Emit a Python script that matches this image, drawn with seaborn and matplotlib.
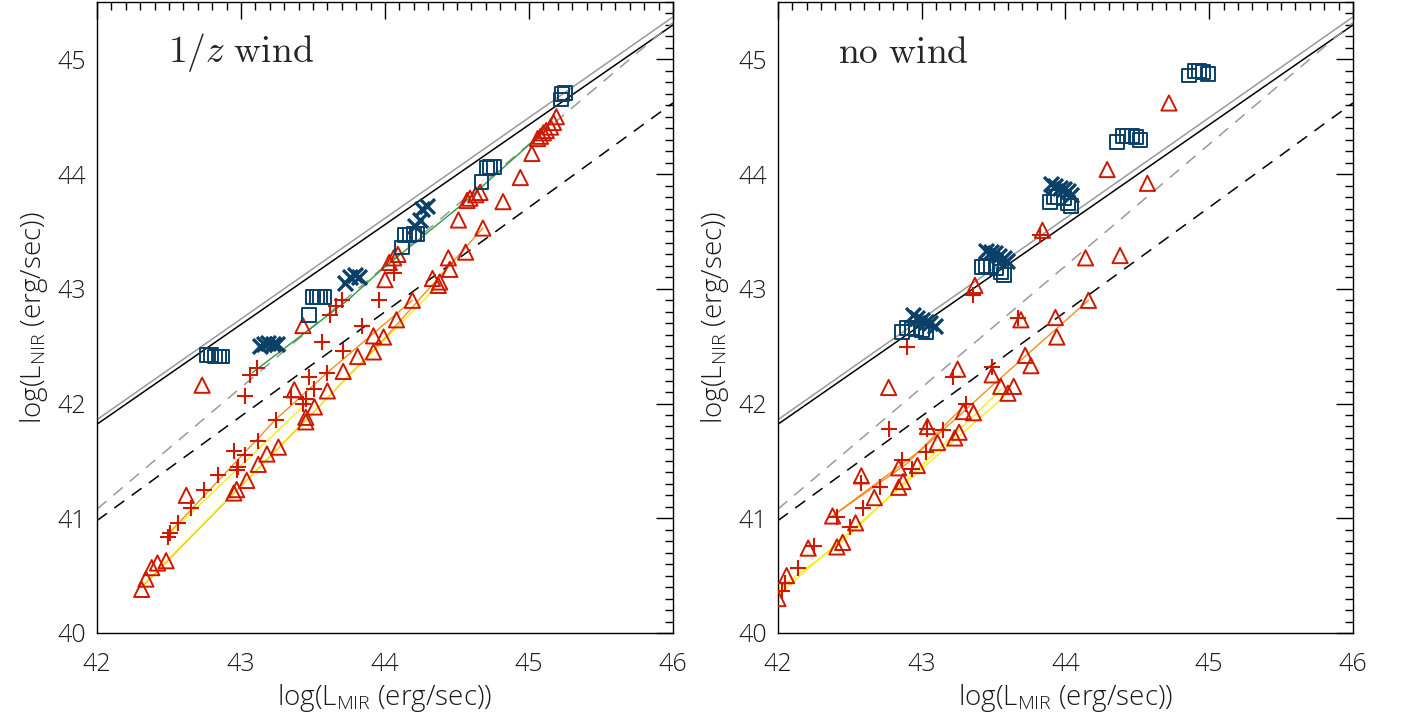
import numpy as np
import pandas as pd
import seaborn as sns
import matplotlib
matplotlib.use("Agg")
from matplotlib import pyplot as plt
from matplotlib.ticker import MultipleLocator

sns.set_style("white")
plt.rcParams['font.family'] = ['Open Sans', 'DejaVu Sans']
plt.rcParams['mathtext.fontset'] = 'custom'
plt.rcParams['mathtext.rm'] = 'Open Sans:light'

BLUE = '#0b4068'
RED = '#cc1a00'
ORANGE = '#f0901e'
YELLOW = '#f5ee10'
GREEN = '#2a9d3a'
GRAY = '#9a9a9a'
TXT = '#1a1a1a'

# reference relations (same in both panels)
ref_x = [42, 46]
ref_black = [41.82, 45.30]
ref_gray = [41.86, 45.37]
ref_gray_dash = [41.08, 45.32]
ref_black_dash = [40.98, 44.62]

# ---- left panel: 1/z wind ----
l_sq_x = [42.76, 42.79, 42.82, 42.85, 42.87, 43.47, 43.50, 43.53, 43.55, 43.58,
          44.12, 44.14, 44.17, 44.20, 44.22, 44.67, 44.71, 44.73, 44.76, 45.22, 45.23, 45.25]
l_sq_y = [42.42, 42.42, 42.41, 42.41, 42.41, 42.77, 42.93, 42.93, 42.93, 42.93,
          43.36, 43.47, 43.47, 43.48, 43.48, 43.93, 44.05, 44.06, 44.06, 44.65, 44.70, 44.71]
l_x_x = [43.13, 43.16, 43.19, 43.22, 43.25, 43.72, 43.76, 43.79, 43.82, 44.21, 44.24, 44.26, 44.29]
l_x_y = [42.50, 42.52, 42.53, 42.52, 42.52, 43.05, 43.10, 43.12, 43.10, 43.55, 43.60, 43.70, 43.72]
l_plus_x = [42.49, 42.51, 42.56, 42.65, 42.74, 42.84, 42.95, 42.97, 42.98, 43.03, 43.12, 43.24,
            43.35, 43.43, 43.45, 43.47, 43.51, 43.60, 43.71, 43.84, 43.96, 43.03, 43.06, 43.11,
            43.56, 43.62, 43.66, 43.70, 44.06]
l_plus_y = [40.84, 40.87, 40.96, 41.09, 41.25, 41.38, 41.59, 41.42, 41.45, 41.55, 41.67, 41.86,
            42.06, 42.00, 42.04, 42.23, 42.13, 42.27, 42.46, 42.68, 42.90, 42.07, 42.25, 42.31,
            42.54, 42.77, 42.85, 42.90, 43.14]
l_tri_x = [42.31, 42.34, 42.38, 42.42, 42.48, 42.62, 42.73, 42.95, 42.97, 43.04, 43.12, 43.18,
           43.26, 43.37, 43.43, 43.45, 43.45, 43.51, 43.60, 43.71, 43.81, 43.92, 43.92, 43.99,
           44.08, 44.19, 44.33, 44.37, 44.38, 44.44, 44.45, 44.56, 44.68, 44.00, 44.03, 44.06,
           44.09, 44.51, 44.57, 44.59, 44.63, 44.66, 44.82, 44.94, 45.02, 45.06, 45.08, 45.10,
           45.12, 45.15, 45.17, 45.19]
l_tri_y = [40.38, 40.47, 40.57, 40.61, 40.63, 41.20, 42.16, 41.22, 41.25, 41.33, 41.47, 41.56,
           41.62, 42.12, 42.68, 41.88, 41.84, 41.97, 42.11, 42.28, 42.41, 42.45, 42.59, 42.58,
           42.73, 42.90, 43.09, 43.03, 43.06, 43.27, 43.17, 43.32, 43.53, 43.08, 43.23, 43.27,
           43.30, 43.60, 43.77, 43.79, 43.82, 43.84, 43.76, 43.97, 44.18, 44.31, 44.33, 44.36,
           44.38, 44.41, 44.45, 44.50]
l_green_x = [43.08, 43.74, 43.97, 44.53, 45.04]
l_green_y = [42.27, 42.90, 43.16, 43.73, 44.30]
l_orange1_x = [42.31, 43.43, 43.97, 44.68]
l_orange1_y = [40.40, 41.83, 42.53, 43.53]
l_orange2_x = [42.50, 43.24, 43.60, 44.19]
l_orange2_y = [40.87, 41.86, 42.27, 42.90]
l_yellow1_x = [42.32, 44.37]
l_yellow1_y = [40.42, 43.03]
l_yellow2_x = [42.49, 43.47]
l_yellow2_y = [40.85, 42.02]

# ---- right panel: no wind ----
r_sq_x = [42.86, 42.90, 42.93, 42.96, 43.00, 43.03, 43.42, 43.45, 43.48, 43.52, 43.55, 43.57,
          43.89, 43.92, 43.95, 43.99, 44.02, 44.04, 44.36, 44.40, 44.43, 44.46, 44.49, 44.52,
          44.86, 44.90, 44.93, 44.96, 44.99]
r_sq_y = [42.62, 42.66, 42.66, 42.65, 42.64, 42.62, 43.19, 43.20, 43.20, 43.18, 43.15, 43.12,
          43.76, 43.80, 43.80, 43.79, 43.75, 43.72, 44.28, 44.33, 44.33, 44.33, 44.32, 44.30,
          44.86, 44.90, 44.90, 44.89, 44.87]
r_x_x = [42.94, 42.97, 43.00, 43.03, 43.06, 43.09, 43.45, 43.48, 43.51, 43.54, 43.57, 43.59,
         43.90, 43.93, 43.96, 43.99, 44.02, 44.04]
r_x_y = [42.77, 42.75, 42.73, 42.71, 42.70, 42.68, 43.33, 43.32, 43.31, 43.29, 43.27, 43.24,
         43.91, 43.90, 43.88, 43.87, 43.85, 43.82]
r_plus_x = [42.03, 42.05, 42.14, 42.25, 42.41, 42.50, 42.59, 42.58, 42.71, 42.86, 42.93, 43.03,
            42.77, 43.04, 43.15, 43.31, 43.22, 43.49, 43.67, 42.90, 43.36, 43.82]
r_plus_y = [40.37, 40.44, 40.57, 40.76, 41.01, 40.92, 41.09, 41.31, 41.27, 41.51, 41.43, 41.58,
            41.78, 41.78, 41.77, 42.00, 42.23, 42.32, 42.75, 42.49, 42.95, 43.47]
r_tri_x = [42.00, 42.06, 42.21, 42.41, 42.45, 42.38, 42.54, 42.67, 42.58, 42.84, 42.87, 42.84,
           42.97, 43.11, 43.23, 43.26, 43.04, 42.77, 43.29, 43.36, 43.55, 43.64, 43.60, 43.25,
           43.49, 43.72, 43.76, 43.69, 43.93, 43.94, 44.16, 43.37, 43.84, 44.14, 44.38, 44.57,
           44.29, 44.72]
r_tri_y = [40.30, 40.50, 40.74, 40.75, 40.79, 41.02, 40.96, 41.18, 41.37, 41.27, 41.32, 41.44,
           41.46, 41.66, 41.70, 41.75, 41.80, 42.14, 41.93, 41.92, 42.15, 42.15, 42.09, 42.30,
           42.25, 42.42, 42.33, 42.73, 42.75, 42.58, 42.90, 43.03, 43.51, 43.27, 43.29, 43.92,
           44.04, 44.62]
r_orange1_x = [42.38, 43.00, 43.52, 44.16]
r_orange1_y = [41.02, 41.60, 42.19, 42.90]
r_orange2_x = [42.38, 42.90, 43.31]
r_orange2_y = [41.02, 41.48, 42.00]
r_yellow1_x = [42.00, 43.60]
r_yellow1_y = [40.33, 42.09]
r_yellow2_x = [42.00, 42.45, 43.55]
r_yellow2_y = [40.38, 40.80, 42.12]


def track(ax, x, y, color, lw=1.0, dashes=None):
    df = pd.DataFrame({'x': x, 'y': y})
    ln = sns.lineplot(data=df, x='x', y='y', sort=False, estimator=None, color=color,
                      linewidth=lw, ax=ax)
    if dashes is not None:
        ln.lines[-1].set_dashes(dashes)


def points(ax, x, y, sq, xx, px, py, tx, ty, tracks):
    for tx_, ty_, c in tracks:
        track(ax, tx_, ty_, c, lw=1.0)
    sns.scatterplot(x=tx, y=ty, marker='^', s=120, facecolor='none', edgecolor=RED,
                    linewidth=1.4, ax=ax, zorder=3)
    sns.scatterplot(x=px, y=py, marker='+', s=140, color=RED, edgecolor=RED,
                    linewidth=1.5, ax=ax, zorder=3)
    sns.scatterplot(x=x, y=y, marker='s', s=100, facecolor='none', edgecolor=BLUE,
                    linewidth=1.4, ax=ax, zorder=4)
    sns.scatterplot(x=sq, y=xx, marker='x', s=115, color=BLUE, edgecolor=BLUE,
                    linewidth=2.4, ax=ax, zorder=4)


fig = plt.figure(figsize=(14.02, 7.24), dpi=100)
ax1 = fig.add_axes([0.0692, 0.1257, 0.4108, 0.8715])
ax2 = fig.add_axes([0.5549, 0.1257, 0.4101, 0.8715])

for ax in (ax1, ax2):
    track(ax, ref_x, ref_gray, GRAY, lw=1.1)
    track(ax, ref_x, ref_black, 'black', lw=1.1)
    track(ax, ref_x, ref_gray_dash, GRAY, lw=1.1, dashes=(8, 6))
    track(ax, ref_x, ref_black_dash, 'black', lw=1.1, dashes=(8, 6))

points(ax1, l_sq_x, l_sq_y, l_x_x, l_x_y, l_plus_x, l_plus_y, l_tri_x, l_tri_y,
       [(l_green_x, l_green_y, GREEN), (l_orange1_x, l_orange1_y, ORANGE),
        (l_orange2_x, l_orange2_y, ORANGE), (l_yellow1_x, l_yellow1_y, YELLOW),
        (l_yellow2_x, l_yellow2_y, YELLOW)])
points(ax2, r_sq_x, r_sq_y, r_x_x, r_x_y, r_plus_x, r_plus_y, r_tri_x, r_tri_y,
       [(r_orange1_x, r_orange1_y, ORANGE), (r_orange2_x, r_orange2_y, ORANGE),
        (r_yellow1_x, r_yellow1_y, YELLOW), (r_yellow2_x, r_yellow2_y, YELLOW)])

for ax, title in ((ax1, r'$1/z\ \mathrm{wind}$'), (ax2, r'$\mathrm{no\ wind}$')):
    ax.set_xlim(42, 46)
    ax.set_ylim(40, 45.5)
    ax.xaxis.set_major_locator(MultipleLocator(1))
    ax.xaxis.set_minor_locator(MultipleLocator(0.1))
    ax.yaxis.set_major_locator(MultipleLocator(1))
    ax.yaxis.set_minor_locator(MultipleLocator(0.1))
    ax.tick_params(which='both', direction='in', top=True, right=True, color='black',
                   width=1.0, labelsize=18, labelcolor=TXT)
    ax.tick_params(axis='x', pad=14)
    ax.tick_params(axis='y', pad=8)
    ax.tick_params(which='major', length=12)
    ax.tick_params(which='minor', length=6)
    for s in ax.spines.values():
        s.set_color('black')
        s.set_linewidth(1.0)
    ax.set_xlabel(r'log(L$_\mathregular{MIR}$ (erg/sec))', fontsize=20, color=TXT,
                  fontweight='light', labelpad=3)
    ax.set_ylabel(r'log(L$_\mathregular{NIR}$ (erg/sec))', fontsize=20, color=TXT,
                  fontweight='light', labelpad=5)
    for lab in ax.get_xticklabels() + ax.get_yticklabels():
        lab.set_fontweight('light')
    ax.text(0.123 if ax is ax1 else 0.104, 0.92, title, transform=ax.transAxes,
            fontsize=27, math_fontfamily='cm', ha='left', va='center')

fig.savefig('out.png', dpi=100)
